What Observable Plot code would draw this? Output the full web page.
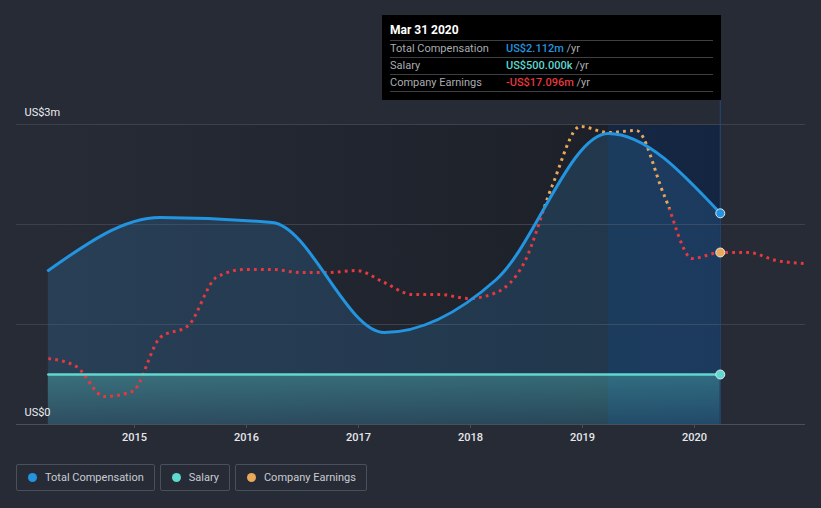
<!DOCTYPE html>
<html>
<head>
<meta charset="utf-8">
<script src="https://cdn.jsdelivr.net/npm/d3@7"></script>
<script src="https://cdn.jsdelivr.net/npm/@observablehq/plot@0.6"></script>
<style>
  html, body { margin: 0; padding: 0; background: #262b36; }
  body { width: 821px; height: 508px; position: relative; overflow: hidden; font-family: Roboto, "Open Sans", sans-serif; }
  #chart { position: absolute; left: 0; top: 0; }
  #tip { position: absolute; left: 382px; top: 15px; width: 339px; height: 85px; background: #000; box-sizing: border-box; padding: 7px 8px 0 8px; }
  #tip .t { color: #fff; font-weight: 700; font-size: 12px; height: 18px; line-height: 17px; border-bottom: 1px solid #3c3f44; }
  #tip .r { height: 16px; line-height: 16px; font-size: 11px; border-bottom: 1px solid #3c3f44; color: #a9acb0; position: relative; }
  #tip .r .v { position: absolute; left: 116px; top: 0; font-weight: 500; }
  #tip .r .u { color: #a9acb0; font-weight: 400; }
  #legend { position: absolute; top: 464px; left: 16px; display: flex; gap: 5px; }
  .lg { height: 27px; box-sizing: border-box; border: 1px solid #4a505b; border-radius: 2px; display: flex; align-items: center; padding: 0 10px 0 11px; font-size: 11px; color: #c9ccd1; }
  .lg .d { width: 9px; height: 9px; border-radius: 50%; margin-right: 8px; }
</style>
</head>
<body>
<div id="chart"></div>
<div id="tip"></div>
<div id="legend"></div>
<script>
// ---- data ----
const compDates = [2014.23, 2015.23, 2016.23, 2017.23, 2018.23, 2019.23, 2020.23];
const totalComp = [1.54, 2.07, 2.02, 0.92, 1.45, 2.91, 2.112];   // US$m
const salary    = [0.5, 0.5, 0.5, 0.5, 0.5, 0.5, 0.5];           // US$m
// company earnings, quarterly, drawn on the chart's normalised scale
const earnDates = [2014.23, 2014.48, 2014.73, 2014.98, 2015.23, 2015.48, 2015.73, 2015.98,
                   2016.23, 2016.48, 2016.73, 2016.98, 2017.23, 2017.48, 2017.73, 2017.98,
                   2018.23, 2018.48, 2018.73, 2018.98, 2019.23, 2019.48, 2019.73, 2019.98,
                   2020.23, 2020.48, 2020.73, 2020.98];
const earnScaled = [0.66, 0.58, 0.28, 0.33, 0.87, 0.99, 1.47, 1.55,
                    1.55, 1.52, 1.52, 1.54, 1.42, 1.30, 1.30, 1.26,
                    1.32, 1.62, 2.39, 2.98, 2.92, 2.94, 2.29, 1.66,
                    1.72, 1.72, 1.64, 1.61];
const earnZeroLevel = 2.16;           // level where earnings cross zero (red below, orange above)
const highlight = [2019.23, 2020.23];  // shaded last year
const tipDate = 2020.23;
const xTicks = [2015, 2016, 2017, 2018, 2019, 2020];
const yGrid = [0, 1, 2, 3];
const yLabelVals = [0, 3];
const yLabels = ["US$0", "US$3m"];
const colors = { comp: "#2394df", salary: "#5fd8ce", earnPos: "#e9a85a", earnNeg: "#e5393f" };

const compData = compDates.map((d, i) => ({ date: d, comp: totalComp[i], salary: salary[i] }));
const earnData = earnDates.map((d, i) => ({ date: d, v: earnScaled[i] }));
const last = compData[compData.length - 1];
const lastEarn = earnData.find(d => d.date === tipDate);

const chart = Plot.plot({
  width: 821, height: 450,
  marginLeft: 16, marginRight: 16, marginTop: 124, marginBottom: 26,
  style: { background: "transparent", fontFamily: "Roboto, sans-serif", fontSize: "11px", color: "#e6e8eb" },
  x: { domain: [2013.946, 2020.991], label: null },
  y: { domain: [0, 3], axis: null },
  marks: [
    Plot.rect([compDates], { x1: d => d[0], x2: d => d[d.length - 1], y1: 0, y2: 3, fill: "url(#bgGrad)" }),
    Plot.rect([highlight], { x1: d => d[0], x2: d => d[1], y1: 0, y2: 3, fill: "#003a92", fillOpacity: 0.25 }),
    Plot.ruleY(yGrid.filter(d => d > 0), { y: d => d, stroke: "#3b414d", strokeWidth: 1 }),
    Plot.ruleY([0], { stroke: "#4a505b", strokeWidth: 1 }),
    Plot.areaY(compData, { x: "date", y: "comp", fill: "#2d6ea0", fillOpacity: 0.3, curve: "monotone-x" }),
    Plot.areaY(compData, { x: "date", y: "salary", fill: "url(#salGrad)", curve: "monotone-x" }),
    Plot.ruleX([tipDate], { x: d => d, y1: 0, y2: 3.24, stroke: "#25487a", strokeWidth: 1 }),
    Plot.line(earnData, { x: "date", y: "v", stroke: colors.earnNeg, strokeWidth: 3, strokeDasharray: "2.8,4.2", strokeLinecap: "butt", curve: "monotone-x", ariaDescription: "earn-neg" }),
    Plot.line(earnData, { x: "date", y: "v", stroke: colors.earnPos, strokeWidth: 3, strokeDasharray: "2.8,4.2", strokeLinecap: "butt", curve: "monotone-x", ariaDescription: "earn-pos" }),
    Plot.line(compData, { x: "date", y: "salary", stroke: colors.salary, strokeWidth: 2.5, curve: "monotone-x" }),
    Plot.line(compData, { x: "date", y: "comp", stroke: colors.comp, strokeWidth: 3, curve: "monotone-x" }),
    Plot.dot([last], { x: "date", y: "comp", r: 4.5, fill: colors.comp, stroke: "#dfe6ee", strokeWidth: 1 }),
    Plot.dot([last], { x: "date", y: "salary", r: 4.5, fill: colors.salary, stroke: "#dfe6ee", strokeWidth: 1 }),
    Plot.dot([lastEarn], { x: "date", y: "v", r: 4.5, fill: colors.earnPos, stroke: "#dfe6ee", strokeWidth: 1 }),
    Plot.text(yLabelVals, { y: d => d, text: (d, i) => yLabels[i], frameAnchor: "left", dx: 8, dy: -12, textAnchor: "start", fill: "#eceef0", fontSize: 11 }),
    Plot.axisX({ ticks: xTicks, tickFormat: d => String(d), tickSize: 4, tickPadding: 5, fontSize: 11, fontWeight: 500, label: null })
  ]
});
document.getElementById("chart").appendChild(chart);

const svg = d3.select(chart);
const ty = chart.scale("y").apply(earnZeroLevel);
const defs = svg.insert("defs", ":first-child");
const bg = defs.append("linearGradient").attr("id", "bgGrad").attr("x1", 0).attr("x2", 1).attr("y1", 0).attr("y2", 0);
bg.append("stop").attr("offset", 0).attr("stop-color", "#262b36");
bg.append("stop").attr("offset", 1).attr("stop-color", "#1b1e26");
const sg = defs.append("linearGradient").attr("id", "salGrad").attr("x1", 0).attr("x2", 0).attr("y1", 0).attr("y2", 1);
sg.append("stop").attr("offset", 0).attr("stop-color", colors.salary).attr("stop-opacity", 0.32);
sg.append("stop").attr("offset", 1).attr("stop-color", colors.salary).attr("stop-opacity", 0.1);
defs.append("clipPath").attr("id", "clipNeg").append("rect").attr("x", 0).attr("y", ty).attr("width", 821).attr("height", 500);
defs.append("clipPath").attr("id", "clipPos").append("rect").attr("x", 0).attr("y", 0).attr("width", 821).attr("height", ty);
svg.select('[aria-description="earn-neg"]').attr("clip-path", "url(#clipNeg)");
svg.select('[aria-description="earn-pos"]').attr("clip-path", "url(#clipPos)");
svg.selectAll('[aria-label="x-axis tick"]').attr("stroke", "#4a505b");
svg.selectAll('[aria-label="x-axis tick label"]').attr("fill", "#e6e8eb");

// tooltip
const tipRows = [
  ["Total Compensation", "US$2.112m", colors.comp],
  ["Salary", "US$500.000k", colors.salary],
  ["Company Earnings", "-US$17.096m", colors.earnNeg]
];
const tip = document.getElementById("tip");
tip.innerHTML = `<div class="t">Mar 31 2020</div>` + tipRows.map(r =>
  `<div class="r">${r[0]}<span class="v" style="color:${r[2]}">${r[1]} <span class="u">/yr</span></span></div>`).join("");

// legend
const legendItems = [["Total Compensation", colors.comp], ["Salary", colors.salary], ["Company Earnings", colors.earnPos]];
document.getElementById("legend").innerHTML = legendItems.map(l =>
  `<div class="lg"><span class="d" style="background:${l[1]}"></span>${l[0]}</div>`).join("");
</script>
</body>
</html>
